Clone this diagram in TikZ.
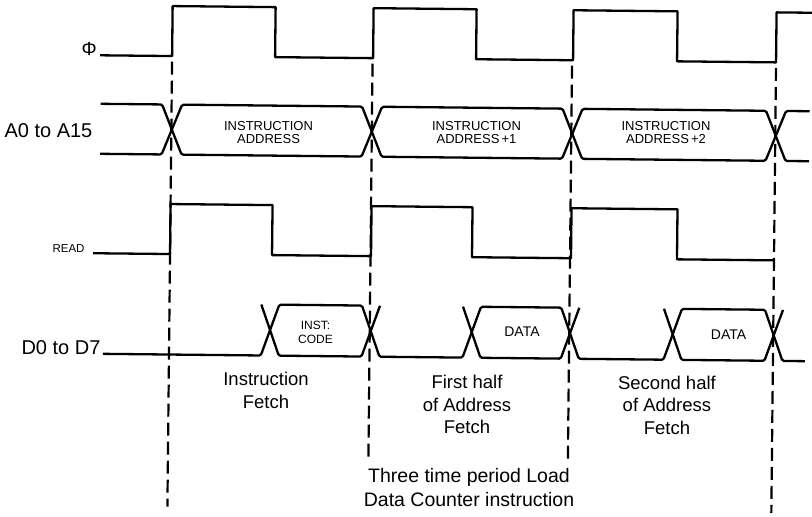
\documentclass[tikz,border=0pt]{standalone}
\usepackage{fontspec}
\setmainfont{Liberation Sans}
\begin{document}
\begin{tikzpicture}[x=1pt,y=-1pt,
  sig/.style={line width=2.3pt, line join=round},
  bus/.style={line width=2.3pt, line join=round, rounded corners=1.5pt},
  dsh/.style={line width=2.2pt, dash pattern=on 13pt off 6pt},
  lbl/.style={inner sep=0pt, outer sep=0pt},
  buslbl/.style={lbl, align=center, font=\fontsize{13}{13}\selectfont},
  cmt/.style={lbl, align=center}]
\useasboundingbox (0,0) rectangle (812,517);
\begin{scope}[rotate around={-0.6:(406,258)}]
% clock
\draw[sig] (98,58.5) -- (170,58.5) -- (170,8.5) -- (273,8.5) -- (273,58.5)
  -- (371,58.5) -- (371,8.5) -- (474,8.5) -- (474,58.5)
  -- (571,58.5) -- (571,8.5) -- (675,8.5) -- (675,58.5)
  -- (774,58.5) -- (774,8.5) -- (810,8.5);
% address bus
\draw[bus] (99,107) -- (160.5,107) -- (180.5,157) -- (360.5,157) -- (380.5,107)
  -- (561,107) -- (581,157) -- (764.5,157) -- (784.5,107) -- (808,107);
\draw[bus] (99,157) -- (160.5,157) -- (180.5,107) -- (360.5,107) -- (380.5,157)
  -- (561,157) -- (581,107) -- (764.5,107) -- (784.5,157) -- (808,157);
% read
\draw[sig] (93,256.5) -- (170,256.5) -- (170,206.5) -- (272,206.5) -- (272,256.5)
  -- (371,256.5) -- (371,206.5) -- (472,206.5) -- (472,256.5)
  -- (571,256.5) -- (571,206.5) -- (677,206.5) -- (677,256.5) -- (774,256.5);
% data bus
\draw[bus] (104,357) -- (261.8,357) -- (279.8,306) -- (362.5,306) -- (380.5,357)
  -- (463.5,357) -- (481.5,306) -- (561.8,306) -- (579.8,357)
  -- (664.5,357) -- (682.5,306) -- (765.5,306) -- (783.5,357) -- (806,357);
\draw[bus] (261.8,306) -- (279.8,357) -- (362.5,357) -- (380.5,306);
\draw[bus] (463.5,306) -- (481.5,357) -- (561.8,357) -- (579.8,306);
\draw[bus] (664.5,306) -- (682.5,357) -- (765.5,357) -- (783.5,306);
% dashed markers
\draw[dsh] (170,64) -- (170,509);
\draw[dsh] (370.5,64) -- (370.5,463);
\draw[dsh] (570,64) -- (570,463);
\draw[dsh] (774,64) -- (774,509);
% signal labels
\node[lbl, font=\fontsize{19}{19}\selectfont] (phi) at (87,52.5) {Φ};
\node[lbl, anchor=base, font=\fontsize{20}{20}\selectfont] (alab) at (47.2,140.8) {A0 to A15};
\node[lbl, anchor=base, font=\fontsize{11.5}{11.5}\selectfont] (rlab) at (68.5,256.5) {READ};
\node[lbl, anchor=base, font=\fontsize{20}{20}\selectfont] (dlab) at (62,358.5) {D0 to D7};
% bus contents
\node[buslbl] (ia0) at (267.2,133.9) {INSTRUCTION\\ADDRESS};
\node[buslbl] (ia1) at (475.2,131.8) {INSTRUCTION\\ADDRESS\,+1};
\node[buslbl] (ia2) at (664.7,129.8) {INSTRUCTION\\ADDRESS\,+2};
\node[lbl, align=center, font=\fontsize{12}{14}\selectfont] (ic) at (316.3,333) {INST:\\CODE};
\node[lbl, anchor=base, font=\fontsize{14}{14}\selectfont] (da1) at (522.8,334.8) {DATA};
\node[lbl, anchor=base, font=\fontsize{14}{14}\selectfont] (da2) at (729.4,336.6) {DATA};
% comments
\node[cmt, font=\fontsize{18.5}{23}\selectfont] (c1) at (267.4,391.5) {Instruction\\Fetch};
\node[cmt, font=\fontsize{18.5}{22.5}\selectfont] (c2) at (468.5,403.9) {First half\\of Address\\Fetch};
\node[cmt, font=\fontsize{18.5}{22.5}\selectfont] (c3) at (668.5,402.3) {Second half\\of Address\\Fetch};
\node[cmt, font=\fontsize{19.5}{24}\selectfont] (c4) at (471.4,486.8) {Three time period Load\\Data Counter instruction};
\end{scope}
\end{tikzpicture}
\end{document}
